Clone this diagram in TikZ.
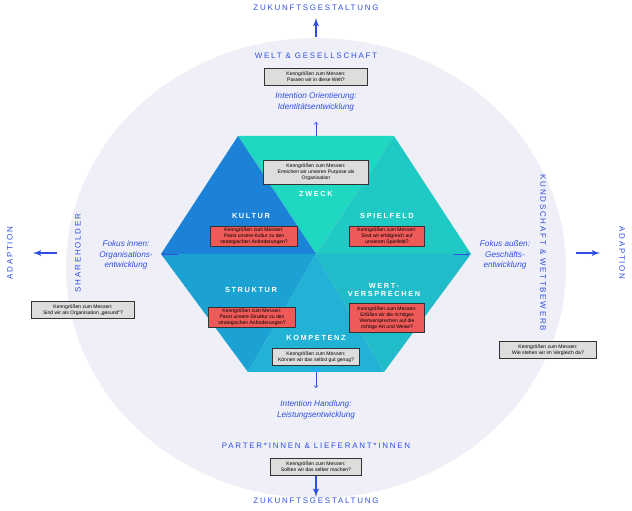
\documentclass[tikz,border=0pt]{standalone}
\usepackage{fontspec}
\setmainfont{Liberation Sans}
\usetikzlibrary{positioning}
\usetikzlibrary{arrows}
\definecolor{bluetxt}{HTML}{2F4FE0}
\definecolor{bgell}{HTML}{EFEFF8}
\definecolor{cKultur}{HTML}{1B82D8}
\definecolor{cZweck}{HTML}{1FD8C2}
\definecolor{cSpiel}{HTML}{1FCAC4}
\definecolor{cStruk}{HTML}{1BA2D2}
\definecolor{cKomp}{HTML}{22B2D6}
\definecolor{cWert}{HTML}{20BCCA}
\definecolor{redbox}{HTML}{EE5A58}
\definecolor{graybox}{HTML}{DDDDDD}
\newcommand{\spaced}[1]{{\addfontfeature{LetterSpace=22}#1}}
\begin{document}
\begin{tikzpicture}[x=0.03cm,y=-0.03cm]
    \tikzstyle{every node}=[font=\fontsize{4.3}{5}\selectfont,align=center,inner sep=1pt]
    \tikzstyle{capsb}=[text=bluetxt,font=\fontsize{6.8}{8}\selectfont]
    \tikzstyle{capsw}=[text=white,font=\bfseries\fontsize{6.3}{8}\selectfont]
    \tikzstyle{intent}=[text=bluetxt,font=\itshape\fontsize{7}{9}\selectfont]
    \tikzstyle{gbox}=[draw=black!80,thick,fill=graybox,minimum height=0.5cm]
    \tikzstyle{rbox}=[draw=black!80,thick,fill=redbox,minimum height=0.6cm]
    \tikzstyle{big}=[-latex',bluetxt,line width=1.4pt]
    \tikzstyle{small}=[-to,bluetxt,semithick]

   \useasboundingbox (0,0) rectangle (632,511);
   \fill[bgell] (316,268) ellipse [x radius=250,y radius=230];

   % hexagon
   \coordinate (c) at (316,254);
   \fill[cZweck] (238,136) -- (394,136) -- (c) -- cycle;
   \fill[cKultur] (238,136) -- (161,254) -- (c) -- cycle;
   \fill[cSpiel] (394,136) -- (471,254) -- (c) -- cycle;
   \fill[cStruk] (161,254) -- (248,372) -- (c) -- cycle;
   \fill[cKomp] (248,372) -- (384,372) -- (c) -- cycle;
   \fill[cWert] (471,254) -- (384,372) -- (c) -- cycle;

   \node[capsw] (zweck) at (316,194) {\spaced{ZWECK}};
   \node[capsw] (kultur) at (251,216) {\spaced{KULTUR}};
   \node[capsw] (spiel) at (387,216) {\spaced{SPIELFELD}};
   \node[capsw] (struk) at (251,290) {\spaced{STRUKTUR}};
   \node[capsw] (wert) at (384,290) {\spaced{WERT-}\\[-1pt]\spaced{VERSPRECHEN}};
   \node[capsw] (komp) at (316,338) {\spaced{KOMPETENZ}};

   \node[gbox,minimum width=3.15cm,minimum height=0.72cm] (bzweck) at (316,172) {Kenngrößen zum Messen:\\Erreichen wir unseren Purpose als\\Organisation};
   \node[rbox,minimum width=2.6cm] (bkultur) at (254,236) {Kenngrößen zum Messen:\\Passt unsere Kultur zu den\\strategischen Anforderungen?};
   \node[rbox,minimum width=2.25cm] (bspiel) at (387,236) {Kenngrößen zum Messen:\\Sind wir erfolgreich auf\\unserem Spielfeld?};
   \node[rbox,minimum width=2.6cm] (bstruk) at (252,317) {Kenngrößen zum Messen:\\Passt unsere Struktur zu den\\strategischen Anforderungen?};
   \node[rbox,minimum width=2.25cm,minimum height=0.85cm] (bwert) at (387,318) {Kenngrößen zum Messen:\\Erfüllen wir die richtigen\\Wertversprechen auf die\\richtige Art und Weise?};
   \node[gbox,minimum width=2.6cm] (bkomp) at (316,357) {Kenngrößen zum Messen:\\Können wir das selbst gut genug?};

   % top
   \node[capsb] (zuk1) at (316,8) {\spaced{ZUKUNFTSGESTALTUNG}};
   \node[capsb] (welt) at (316,56) {\spaced{WELT \& GESELLSCHAFT}};
   \node[gbox,minimum width=3.1cm] (bwelt) at (316,77) {Kenngrößen zum Messen:\\Passen wir in diese Welt?};
   \node[intent] (orient) at (316,102) {Intention Orientierung:\\Identitätsentwicklung};
   \coordinate (top) at (316,136);
   \coordinate (topend) at (316,122);
   \coordinate (up1) at (316,37);
   \coordinate (up2) at (316,18);
   \draw[big] (up1) -- (up2);
   \draw[small] (top) -- (topend);

   % bottom
   \node[intent] (handl) at (316,410) {Intention Handlung:\\Leistungsentwicklung};
   \node[capsb] (part) at (316,446) {\spaced{PARTER*INNEN \& LIEFERANT*INNEN}};
   \node[gbox,minimum width=2.75cm] (bpart) at (316,467) {Kenngrößen zum Messen:\\Sollten wir das selber machen?};
   \node[capsb] (zuk2) at (316,501) {\spaced{ZUKUNFTSGESTALTUNG}};
   \coordinate (bot) at (316,372);
   \coordinate (botend) at (316,388);
   \draw[small] (bot) -- (botend);
   \draw[big] (bpart.south) -- (zuk2.north);

   % left
   \node[capsb,rotate=90] (adl) at (10,253) {\spaced{ADAPTION}};
   \node[capsb,rotate=90] (share) at (78,253) {\spaced{SHAREHOLDER}};
   \node[intent] (innen) at (126,255) {Fokus innen:\\Organisations-\\entwicklung};
   \node[gbox,minimum width=3.1cm] (bshare) at (83,310) {Kenngrößen zum Messen:\\Sind wir als Organisation „gesund“?};
   \coordinate (left) at (178,254);
   \coordinate (leftend) at (162,254);
   \coordinate (l1) at (57,253);
   \coordinate (l2) at (33,253);
   \draw[small] (left) -- (leftend);
   \draw[big] (l1) -- (l2);

   % right
   \node[intent] (aussen) at (505,255) {Fokus außen:\\Geschäfts-\\entwicklung};
   \node[capsb,rotate=-90] (kund) at (543,253) {\spaced{KUNDSCHAFT \& WETTBEWERB}};
   \node[capsb,rotate=-90] (adr) at (622,253) {\spaced{ADAPTION}};
   \node[gbox,minimum width=2.9cm] (bkund) at (548,350) {Kenngrößen zum Messen:\\Wie stehen wir im Vergleich da?};
   \coordinate (right) at (454,254);
   \coordinate (rightend) at (469,254);
   \coordinate (r1) at (576,253);
   \coordinate (r2) at (600,253);
   \draw[small] (right) -- (rightend);
   \draw[big] (r1) -- (r2);

  \end{tikzpicture}
\end{document}
